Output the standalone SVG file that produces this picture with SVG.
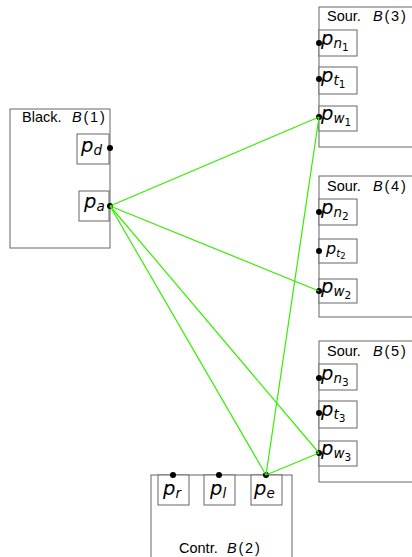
<svg xmlns="http://www.w3.org/2000/svg" width="412" height="557" viewBox="0 0 412 557">
<style>
.blk{fill:#fff;stroke:#666;stroke-width:1}
.prt{fill:#fff;stroke:#666;stroke-width:1}
.ttl{font-family:"Liberation Sans",Arial,sans-serif;font-size:14.5px;fill:#000}
.ttl .v{font-style:italic}
.ttl .m{letter-spacing:1.8px}
.pl{font-family:"DejaVu Sans",sans-serif;font-style:oblique;font-size:19.5px;fill:#000}
.sb{font-size:13.5px}
.sb2{font-size:10.5px;font-style:normal}
.dot{fill:#000}
.cn{stroke:#33ee00;stroke-width:1.2;fill:none}
</style>
<rect width="412" height="557" fill="#fff"/>

<g id="black">
<rect class="blk" x="10" y="109" width="100" height="139"/>
<text class="ttl" x="22" y="122">Black.<tspan class="m" x="72"><tspan class="v">B</tspan>(1)</tspan></text>
<rect class="prt" x="77" y="134" width="32" height="30"/>
<text class="pl" x="81" y="152">p<tspan class="sb" dy="3">d</tspan></text>
<rect class="prt" x="79" y="191" width="30" height="30"/>
<text class="pl" x="84" y="208">p<tspan class="sb" dy="3">a</tspan></text>
<circle class="dot" cx="110" cy="148" r="3"/>
<circle class="dot" cx="110" cy="206" r="3"/>
</g>

<g id="src3">
<rect class="blk" x="319" y="7" width="100" height="140"/>
<text class="ttl" x="327" y="21">Sour.<tspan class="m" x="373"><tspan class="v">B</tspan>(3)</tspan></text>
<rect class="prt" x="319" y="30" width="38" height="26"/>
<text class="pl" x="321" y="45">p<tspan class="sb" dy="3">n</tspan><tspan class="sb2" dy="3">1</tspan></text>
<rect class="prt" x="319" y="67" width="38" height="27"/>
<text class="pl" x="321" y="82">p<tspan class="sb" dy="3">t</tspan><tspan class="sb2" dy="3">1</tspan></text>
<rect class="prt" x="319" y="106" width="38" height="25"/>
<text class="pl" x="321" y="120">p<tspan class="sb" dy="3">w</tspan><tspan class="sb2" dy="3">1</tspan></text>
<circle class="dot" cx="319" cy="43" r="3"/>
<circle class="dot" cx="319" cy="79" r="3"/>
<circle class="dot" cx="319" cy="117" r="3"/>
</g>

<g id="src4">
<rect class="blk" x="319" y="176" width="100" height="141"/>
<text class="ttl" x="327" y="191">Sour.<tspan class="m" x="373"><tspan class="v">B</tspan>(4)</tspan></text>
<rect class="prt" x="319" y="199" width="38" height="26"/>
<text class="pl" x="321" y="214">p<tspan class="sb" dy="3">n</tspan><tspan class="sb2" dy="3">2</tspan></text>
<rect class="prt" x="319" y="239" width="38" height="24"/>
<text class="pl" x="326" y="254" style="font-size:16px">p<tspan style="font-size:10.5px" dy="3">t</tspan><tspan style="font-size:8.5px;font-style:normal" dy="2">2</tspan></text>
<rect class="prt" x="319" y="279" width="38" height="24"/>
<text class="pl" x="321" y="293">p<tspan class="sb" dy="3">w</tspan><tspan class="sb2" dy="3">2</tspan></text>
<circle class="dot" cx="319" cy="212" r="3"/>
<circle class="dot" cx="319" cy="251" r="3"/>
<circle class="dot" cx="319" cy="291" r="3"/>
</g>

<g id="src5">
<rect class="blk" x="319" y="341" width="100" height="141"/>
<text class="ttl" x="327" y="356">Sour.<tspan class="m" x="373"><tspan class="v">B</tspan>(5)</tspan></text>
<rect class="prt" x="319" y="364" width="38" height="26"/>
<text class="pl" x="321" y="380">p<tspan class="sb" dy="3">n</tspan><tspan class="sb2" dy="3">3</tspan></text>
<rect class="prt" x="319" y="401" width="38" height="27"/>
<text class="pl" x="321" y="416">p<tspan class="sb" dy="3">t</tspan><tspan class="sb2" dy="3">3</tspan></text>
<rect class="prt" x="319" y="441" width="38" height="25"/>
<text class="pl" x="321" y="455">p<tspan class="sb" dy="3">w</tspan><tspan class="sb2" dy="3">3</tspan></text>
<circle class="dot" cx="319" cy="378" r="3"/>
<circle class="dot" cx="319" cy="413" r="3"/>
<circle class="dot" cx="319" cy="453" r="3"/>
</g>

<g id="contr">
<rect class="blk" x="151" y="475" width="141" height="90"/>
<text class="ttl" x="179" y="553">Contr.<tspan class="m" x="227"><tspan class="v">B</tspan>(2)</tspan></text>
<rect class="prt" x="158" y="475" width="31" height="30"/>
<text class="pl" x="163" y="495">p<tspan class="sb" dy="3">r</tspan></text>
<rect class="prt" x="204" y="475" width="31" height="30"/>
<text class="pl" x="210" y="495">p<tspan class="sb" dy="3">l</tspan></text>
<rect class="prt" x="251" y="475" width="31" height="30"/>
<text class="pl" x="254" y="495">p<tspan class="sb" dy="3">e</tspan></text>
<circle class="dot" cx="173" cy="475" r="3"/>
<circle class="dot" cx="219" cy="475" r="3"/>
<circle class="dot" cx="266" cy="475" r="3"/>
</g>

<g id="connectors">
<line class="cn" x1="110" y1="206" x2="319" y2="117"/>
<line class="cn" x1="110" y1="206" x2="319" y2="291"/>
<line class="cn" x1="110" y1="206" x2="319" y2="453"/>
<line class="cn" x1="110" y1="206" x2="266" y2="475"/>
<line class="cn" x1="266" y1="475" x2="319" y2="117"/>
<line class="cn" x1="266" y1="475" x2="319" y2="453"/>
</g>
</svg>
